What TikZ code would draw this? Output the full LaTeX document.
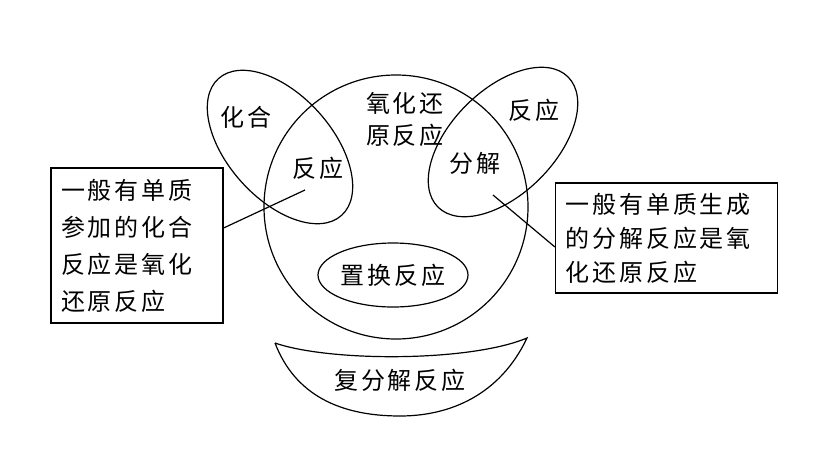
\documentclass[tikz,border=0pt]{standalone}
\usepackage{fontspec}
\newfontfamily\cjk[LetterSpace=12]{Noto Sans CJK SC}
\begin{document}
\begin{tikzpicture}[x=1pt,y=-1pt,line width=1.2pt,
  t/.style={font=\cjk\fontsize{24}{37}\selectfont,inner sep=0pt},
  box/.style={draw,t,align=left,inner xsep=10pt,inner ysep=8pt}]
\useasboundingbox (0,0) rectangle (813,453);
\draw (396,207) circle[radius=132];
\draw[rotate around={-48:(280,147)}] (280,147) ellipse[x radius=92,y radius=52];
\draw[rotate around={45:(503,142)}] (503,142) ellipse[x radius=92,y radius=52];
\draw (393,275) ellipse[x radius=75,y radius=32];
\draw (275,343) .. controls (330,362) and (470,362) .. (527,338)
  .. controls (500,395) and (450,416) .. (400,416) .. controls (340,416) and (295,395) .. (275,343);
\node[t] (a) at (246,117) {化合};
\node[t] (b) at (318,168) {反应};
\node[t,align=center,font=\cjk\fontsize{24}{32}\selectfont] (c) at (405,119) {氧化还\\原反应};
\node[t] (d) at (534,110) {反应};
\node[t] (e) at (475,163) {分解};
\node[t] (f) at (393,275) {置换反应};
\node[t] (g) at (400,380) {复分解反应};
\node[box,text width=152pt,minimum height=155pt] (L) at (137,245.5) {一般有单质\\参加的化合\\反应是氧化\\还原反应};
\node[box,text width=202pt,minimum height=110pt,font=\cjk\fontsize{24}{34}\selectfont] (R) at (666.5,238) {一般有单质生成\\的分解反应是氧\\化还原反应};
\coordinate (p) at (305,190);
\coordinate (q) at (493,195);
\draw (L.east |- 0,228) -- (p);
\draw (R.west |- 0,247) -- (q);
\end{tikzpicture}
\end{document}
